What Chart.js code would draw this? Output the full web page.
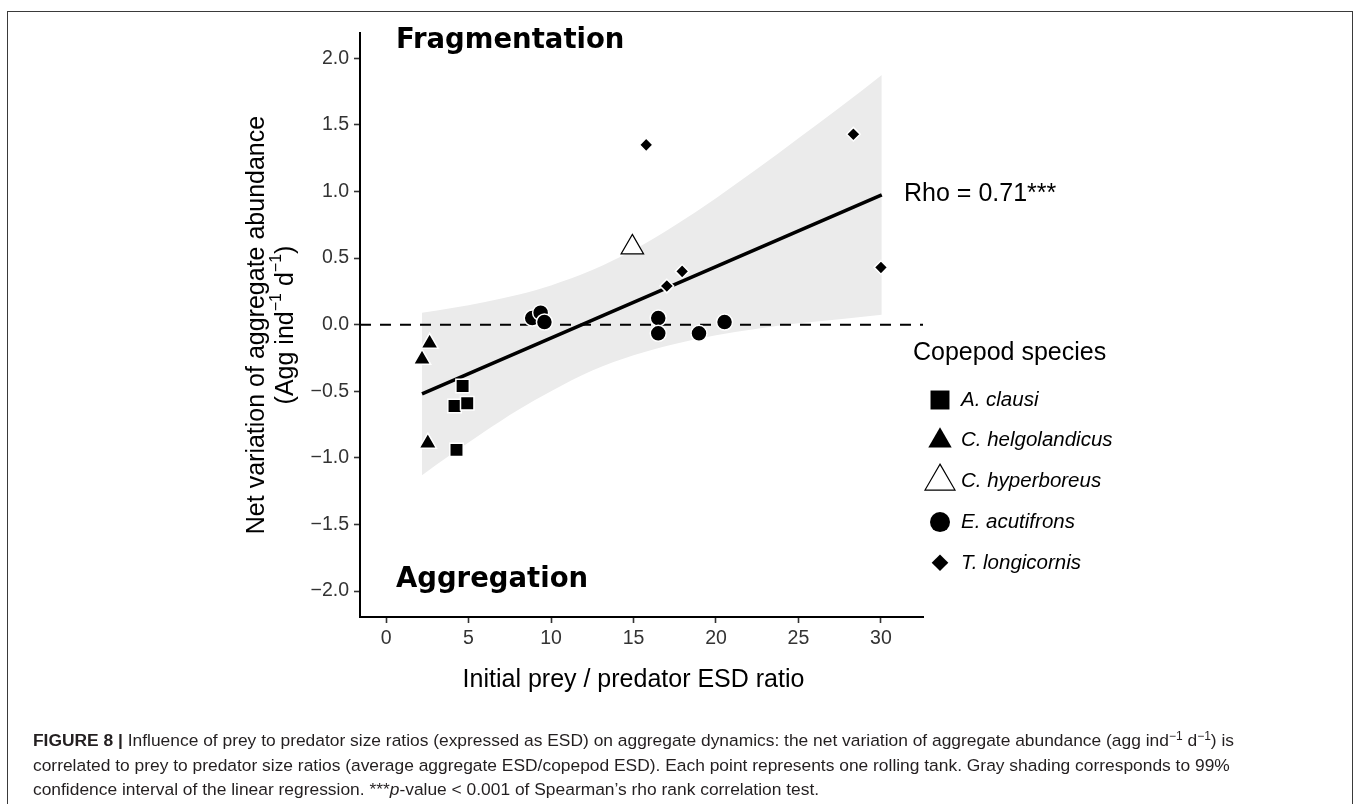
<!DOCTYPE html>
<html>
<head>
<meta charset="utf-8">
<title>Figure 8</title>
<script src="https://cdn.jsdelivr.net/npm/chart.js@4.4.1/dist/chart.umd.min.js"></script>
<style>
  html, body { margin: 0; padding: 0; background: #fff; }
  #wrap { position: relative; width: 1358px; height: 804px; overflow: hidden; }
  #frame { position: absolute; left: 7px; top: 11px; width: 1346px; height: 830px; border: 1px solid #3a3a3a; box-sizing: border-box; }
  #chart { position: absolute; left: 0; top: 0; }
  #caption { position: absolute; left: 33px; top: 728px; font-family: "Liberation Sans", Arial, sans-serif;
             font-size: 17.4px; line-height: 24.5px; color: #231f20; white-space: nowrap; }
  #caption sup { font-size: 12px; line-height: 0; vertical-align: 6px; }
</style>
</head>
<body>
<div id="wrap">
  <div id="frame"></div>
  <canvas id="chart" width="1358" height="804"></canvas>
  <div id="caption">
    <b>FIGURE 8 |</b> Influence of prey to predator size ratios (expressed as ESD) on aggregate dynamics: the net variation of aggregate abundance (agg ind<sup>&minus;1</sup> d<sup>&minus;1</sup>) is<br>
    correlated to prey to predator size ratios (average aggregate ESD/copepod ESD). Each point represents one rolling tank. Gray shading corresponds to 99%<br>
    confidence interval of the linear regression. ***<i>p</i>-value &lt; 0.001 of Spearman&rsquo;s rho rank correlation test.
  </div>
</div>
<script>
// ---------------- axes
const xMin = -1.58, xMax = 32.55;
const yMin = -2.195, yMax = 2.19;
const xTicks = [0, 5, 10, 15, 20, 25, 30];
const yTicks = [-2, -1.5, -1, -0.5, 0, 0.5, 1, 1.5, 2];
const yRef = 0; // dashed reference line

// ---------------- points, one pair of arrays per species
const clausiX = [4.64, 4.15, 4.92, 4.27];
const clausiY = [-0.46, -0.61, -0.59, -0.94];
const helgoX = [2.64, 2.18, 2.53];
const helgoY = [-0.14, -0.26, -0.89];
const hyperX = [14.93];
const hyperY = [0.58];
const acutiX = [8.86, 9.37, 9.6, 16.5, 16.5, 18.97, 20.52];
const acutiY = [0.05, 0.09, 0.02, 0.05, -0.065, -0.065, 0.02];
const longiX = [15.77, 28.33, 17.95, 17.02, 30.0];
const longiY = [1.35, 1.43, 0.40, 0.29, 0.43];

// ---------------- regression line and 99% band
const fitX = [2.18, 30.05];
const fitY = [-0.52, 0.975];
const bandX = [2.18, 4, 6, 8, 10, 12.5, 15, 17.5, 20, 22.5, 25, 27.5, 30.05];
const bandHi = [0.09, 0.125, 0.17, 0.225, 0.295, 0.41, 0.56, 0.745, 0.95, 1.17, 1.40, 1.63, 1.875];
const bandLo = [-1.13, -0.97, -0.80, -0.64, -0.50, -0.345, -0.23, -0.145, -0.08, -0.03, 0.01, 0.04, 0.075];

// ---------------- legend
const legendTitle = "Copepod species";
const legendNames = ["A. clausi", "C. helgolandicus", "C. hyperboreus", "E. acutifrons", "T. longicornis"];
const legendStyles = ["rect", "triangle", "triangle", "circle", "rectRot"];
const legendRadius = [13.4, 13.5, 17.3, 10, 8.3];
const legendFill = ["#000", "#000", "#fff", "#000", "#000"];

// ---------------- text annotations (data coords)
const notes = [
  { text: "Fragmentation", x: 0.6, y: 2.13, font: 'bold 27.5px "DejaVu Sans"' },
  { text: "Aggregation", x: 0.6, y: -1.915, font: 'bold 27.5px "DejaVu Sans"' },
  { text: "Rho = 0.71***", x: 31.4, y: 0.98, font: '25px "Liberation Sans", Arial' }
];

const SANS = '"Liberation Sans", Arial, sans-serif';

function pts(xs, ys) {
  return xs.map((x, i) => ({ x: x, y: ys[i] }));
}

function speciesSet(label, xs, ys, style, r, fill, stroke, bw) {
  return {
    label: label, data: pts(xs, ys), showLine: false,
    pointStyle: style, pointRadius: r, pointHoverRadius: r,
    pointBackgroundColor: fill, pointBorderColor: stroke, pointBorderWidth: bw
  };
}

// draws the texts, the y title and the legend
const decorations = {
  id: "decorations",
  afterDraw(chart) {
    const ctx = chart.ctx;
    const xs = chart.scales.x, ys = chart.scales.y;
    const area = chart.chartArea;
    ctx.save();
    ctx.fillStyle = "#000";
    ctx.textBaseline = "middle";
    ctx.textAlign = "left";

    notes.forEach(n => {
      ctx.font = n.font;
      ctx.fillText(n.text, xs.getPixelForValue(n.x), ys.getPixelForValue(n.y));
    });

    // x title
    ctx.font = "25px " + SANS;
    ctx.textAlign = "center";
    ctx.fillText("Initial prey / predator ESD ratio", (area.left + area.right) / 2 - 8, area.bottom + 63);

    // y title, two lines, the second with superscripts
    const midY = (area.top + area.bottom) / 2;
    ctx.save();
    ctx.translate(area.left - 103, midY);
    ctx.rotate(-Math.PI / 2);
    ctx.fillText("Net variation of aggregate abundance", 0, 0);
    ctx.restore();

    const parts = [["(Agg ind", 0], ["\u22121", 1], [" d", 0], ["\u22121", 1], [")", 0]];
    const fontFor = s => (s ? "16px " : "25px ") + SANS;
    let total = 0;
    parts.forEach(p => { ctx.font = fontFor(p[1]); total += ctx.measureText(p[0]).width; });
    ctx.save();
    ctx.translate(area.left - 74, midY);
    ctx.rotate(-Math.PI / 2);
    ctx.textAlign = "left";
    let cx = -total / 2;
    parts.forEach(p => {
      ctx.font = fontFor(p[1]);
      ctx.fillText(p[0], cx, p[1] ? -9 : 0);
      cx += ctx.measureText(p[0]).width;
    });
    ctx.restore();

    // legend
    ctx.textAlign = "left";
    ctx.font = "25px " + SANS;
    ctx.fillText(legendTitle, area.right - 10, 353);
    legendNames.forEach((name, i) => {
      const y = 400 + i * 40.7;
      ctx.fillStyle = legendFill[i];
      ctx.strokeStyle = "#000";
      ctx.lineWidth = 1.2;
      Chart.helpers.drawPoint(ctx, {
        pointStyle: legendStyles[i], radius: legendRadius[i], rotation: 0,
        borderWidth: legendFill[i] === "#fff" ? 1.2 : 0
      }, area.right + 17, y);
      ctx.fillStyle = "#000";
      ctx.font = "italic 20.5px " + SANS;
      ctx.fillText(name, area.right + 38, y);
    });
    ctx.restore();
  }
};

const axisFont = { family: SANS, size: 19.5 };

new Chart(document.getElementById("chart"), {
  type: "line",
  data: {
    datasets: [
      speciesSet("A. clausi", clausiX, clausiY, "rect", 9.5, "#000", "#fff", 1.5),
      speciesSet("C. helgolandicus", helgoX, helgoY, "triangle", 10, "#000", "#fff", 1.5),
      speciesSet("C. hyperboreus", hyperX, hyperY, "triangle", 13, "#fff", "#000", 1.2),
      speciesSet("E. acutifrons", acutiX, acutiY, "circle", 8, "#000", "#fff", 1.5),
      speciesSet("T. longicornis", longiX, longiY, "rectRot", 6.8, "#000", "#fff", 1.5),
      { label: "fit", data: pts(fitX, fitY), borderColor: "#000", borderWidth: 3.6, pointRadius: 0 },
      { label: "zero", data: [{ x: xMin, y: yRef }, { x: xMax, y: yRef }], borderColor: "#000",
        borderWidth: 2, borderDash: [11, 9], pointRadius: 0 },
      { label: "ci-hi", data: pts(bandX, bandHi), borderWidth: 0, pointRadius: 0,
        cubicInterpolationMode: "monotone", fill: "+1", backgroundColor: "#ebebeb" },
      { label: "ci-lo", data: pts(bandX, bandLo), borderWidth: 0, pointRadius: 0,
        cubicInterpolationMode: "monotone", fill: false }
    ]
  },
  options: {
    responsive: false,
    animation: false,
    devicePixelRatio: 1,
    layout: { padding: { top: 33, right: 435, left: 0, bottom: 0 } },
    plugins: { legend: { display: false }, tooltip: { enabled: false } },
    scales: {
      x: {
        type: "linear", min: xMin, max: xMax,
        afterBuildTicks: s => { s.ticks = xTicks.map(v => ({ value: v })); },
        afterFit: s => { s.height = 804 - 617; },
        grid: { drawOnChartArea: false, drawTicks: true, tickLength: 6, tickColor: "#333", tickWidth: 1.6 },
        border: { display: true, color: "#000", width: 2 },
        ticks: { color: "#333", font: axisFont, padding: 4, maxRotation: 0, autoSkip: false }
      },
      y: {
        type: "linear", min: yMin, max: yMax,
        afterBuildTicks: s => { s.ticks = yTicks.map(v => ({ value: v })); },
        afterFit: s => { s.width = 360; },
        grid: { drawOnChartArea: false, drawTicks: true, tickLength: 6, tickColor: "#333", tickWidth: 1.6 },
        border: { display: true, color: "#000", width: 2 },
        ticks: {
          color: "#333", font: axisFont, padding: 5, autoSkip: false,
          callback: v => (v < 0 ? "\u2212" : "") + Math.abs(v).toFixed(1)
        }
      }
    }
  },
  plugins: [decorations]
});
</script>
</body>
</html>
